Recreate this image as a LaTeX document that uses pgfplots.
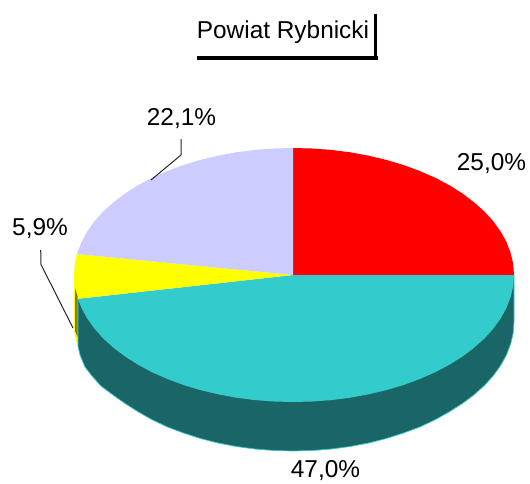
\documentclass[border=0pt]{standalone}
\usepackage{pgfplots}
\pgfplotsset{compat=1.18}
\usepackage{fontspec}
\setmainfont{Liberation Sans}
\definecolor{cteal}{HTML}{33CCCC}
\definecolor{cside}{HTML}{1A6666}
\definecolor{clilac}{HTML}{CCCCFF}
\definecolor{colive}{HTML}{808000}
\definecolor{cyellow}{HTML}{FFFF00}
\definecolor{cred}{HTML}{FF0000}
\begin{document}
\begin{tikzpicture}
\useasboundingbox (0,0) rectangle (530pt,483pt);
\begin{axis}[at={(0,0)},anchor=south west,scale only axis,width=530pt,height=483pt,
  xmin=0,xmax=530,ymin=0,ymax=483,y dir=reverse,hide axis,clip=false,
  nodes={font=\fontsize{24.4}{28}\selectfont,inner sep=0pt}]
% side of yellow slice
\addplot[fill=cyellow,draw=none] coordinates {(74,275)(74,329)(75,336)(78,347)(78,299)} -- cycle;
% side of teal slice
\addplot[fill=cside,draw=cteal,line width=0.7pt] coordinates {(514,275)(514,322)(513.2,333.1)(510.6,344.1)(506.5,354.9)(500.7,365.4)(493.3,375.7)(484.4,385.5)(474,394.8)(462.3,403.6)(449.3,411.8)(435.1,419.8)(419.8,427)(403.5,433)(386.4,438.5)(368.6,443)(350.2,446.5)(331.4,449)(312.3,450.5)(293,451)(273.9,450.5)(255,449)(236.3,446.5)(218.1,443)(200.4,438.5)(183.5,433)(167.4,427)(152.2,419.8)(138.1,411.8)(125.2,403.6)(113,395)(101,386)(92,376)(85,367)(80,355)(78,346)(78,299)} -- cycle;
% top: red 25,0%
\addplot[fill=cred,draw=none] coordinates {(293,275)(293,148)(312.3,148.5)(331.4,149.9)(350.2,152.3)(368.6,155.7)(386.4,159.9)(403.5,165)(419.8,171)(435.1,177.7)(449.3,185.2)(462.3,193.4)(474,202.2)(484.4,211.5)(493.3,221.3)(500.7,231.6)(506.5,242.1)(510.6,252.9)(513.2,263.9)(514,275)} -- cycle;
% top: teal 47,0%
\addplot[fill=cteal,draw=none] coordinates {(293,275)(514,275)(513.2,286.1)(510.6,297.1)(506.5,307.9)(500.7,318.4)(493.3,328.7)(484.4,338.5)(474,347.8)(462.3,356.6)(449.3,364.8)(435.1,372.3)(419.8,379)(403.5,385)(386.4,390.1)(368.6,394.3)(350.2,397.7)(331.4,400.1)(312.3,401.5)(293,402)(273.9,401.5)(255,400.1)(236.3,397.7)(218.1,394.3)(200.4,390.1)(183.5,385)(167.4,379)(152.2,372.3)(138.1,364.8)(125.2,356.6)(113.6,347.8)(103.3,338.5)(94.5,328.7)(87.2,318.4)(81.5,307.9)(77.9,298.8)} -- cycle;
% top: yellow 5,9%
\addplot[fill=cyellow,draw=none] coordinates {(293,275)(77.9,298.8)(74.8,286.1)(74,275)(74.8,263.9)(77,254)} -- cycle;
% top: lilac 22,1%
\addplot[fill=clilac,draw=none] coordinates {(293,275)(77,254)(81.5,242.1)(87.2,231.6)(94.5,221.3)(103.3,211.5)(113.6,202.2)(125.2,193.4)(138.1,185.2)(152.2,177.7)(167.4,171)(183.5,165)(200.4,159.9)(218.1,155.7)(236.3,152.3)(255,149.9)(273.9,148.5)(293,148)} -- cycle;
% dark strip on the yellow side
\addplot[fill=colive,draw=none] coordinates {(75,288)(77.5,296)(77.5,337)(75,331)} -- cycle;
% leader lines
\addplot[black!85,line width=1pt] coordinates {(151,180)(181,155)(181,139)};
\addplot[black!85,line width=1pt] coordinates {(40.7,250)(41,264.5)(73,328)};
% title box
\addplot[black,line width=3pt] coordinates {(375,14)(375,58)};
\addplot[black,line width=3.6pt] coordinates {(197,58)(378,58)};
\node[anchor=center] at (axis cs:283,32) {Powiat Rybnicki};
\node[anchor=center] at (axis cs:181.5,118.5) {22,1\%};
\node[anchor=center] at (axis cs:491.5,163.5) {25,0\%};
\node[anchor=center] at (axis cs:40,229) {5,9\%};
\node[anchor=center] at (axis cs:325.5,470.5) {47,0\%};
\end{axis}
\end{tikzpicture}
\end{document}
